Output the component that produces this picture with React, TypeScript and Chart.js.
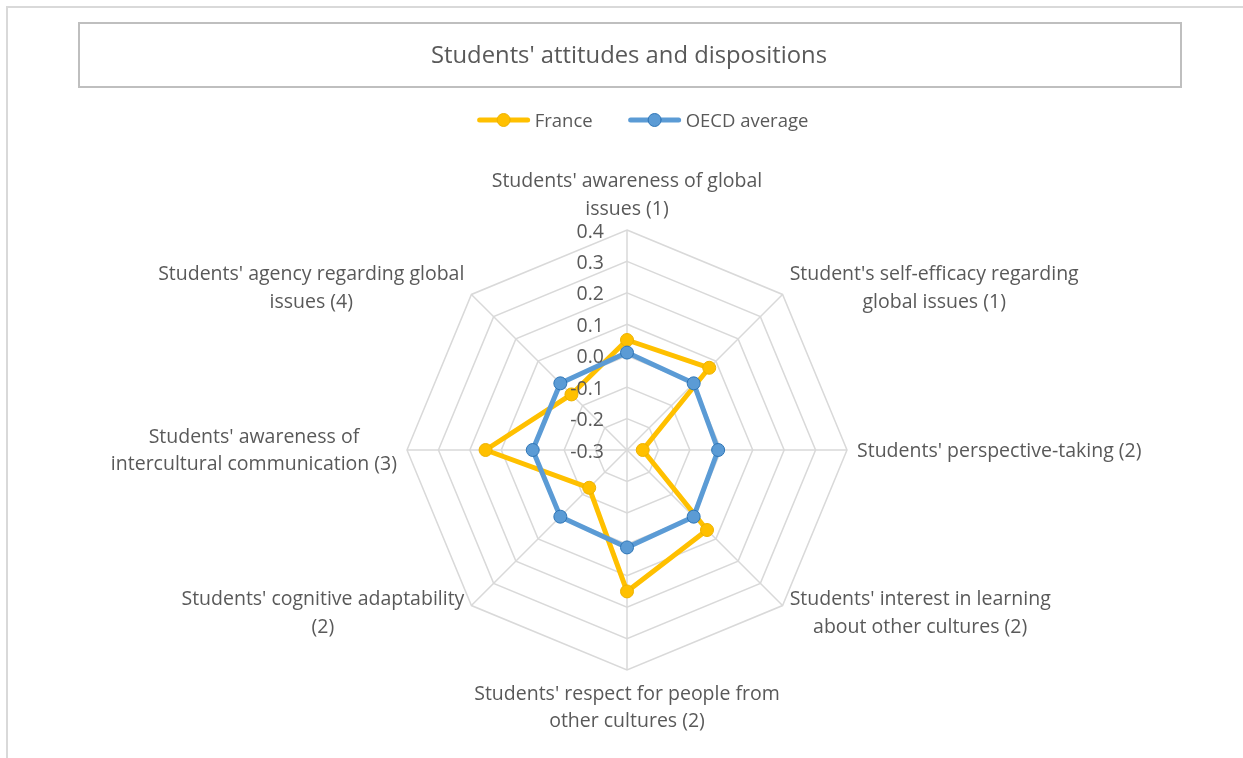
import React, { useEffect, useRef } from "react";
import { Chart, registerables } from "chart.js";

Chart.register(...registerables);

const chartTitle = "Students' attitudes and dispositions";

const categories: string[][] = [
  ["Students' awareness of global", "issues (1)"],
  ["Student's self-efficacy regarding", "global issues (1)"],
  ["Students' perspective-taking (2)"],
  ["Students' interest in learning", "about other cultures (2)"],
  ["Students' respect for people from", "other cultures (2)"],
  ["Students' cognitive adaptability", "(2)"],
  ["Students' awareness of", "intercultural communication (3)"],
  ["Students' agency regarding global", "issues (4)"],
];

const franceValues = [0.05, 0.07, -0.25, 0.06, 0.15, -0.13, 0.15, -0.05];
const oecdValues = [0.01, 0.0, -0.01, 0.0, 0.01, 0.0, 0.0, 0.0];

const tickLabels = ["-0.3", "-0.2", "-0.1", "0.0", "0.1", "0.2", "0.3", "0.4"];
const scaleMin = -0.3;
const scaleMax = 0.4;
const scaleStep = 0.1;

const FONT = "'Open Sans', sans-serif";
const TEXT = "#595959";

const decorPlugin = {
  id: "decor",
  beforeDraw(chart: any) {
    const ctx = chart.ctx;
    ctx.save();
    // outer frame (top + left visible)
    ctx.strokeStyle = "#D9D9D9";
    ctx.lineWidth = 2;
    ctx.beginPath();
    ctx.moveTo(7, chart.height);
    ctx.lineTo(7, 7);
    ctx.lineTo(chart.width, 7);
    ctx.stroke();
    // title box
    ctx.strokeStyle = "#BFBFBF";
    ctx.lineWidth = 2;
    ctx.strokeRect(79, 23, 1102, 64);
    ctx.fillStyle = TEXT;
    ctx.font = `23.8px ${FONT}`;
    ctx.textAlign = "center";
    ctx.textBaseline = "middle";
    ctx.fillText(chartTitle, 629, 56);
    // legend
    ctx.font = `18.5px ${FONT}`;
    const lineLen = 52;
    const gap = 5;
    const itemGap = 36;
    const ds = chart.data.datasets;
    const widths = ds.map((d: any) => lineLen + gap + ctx.measureText(d.label).width);
    const total = widths.reduce((a: number, b: number) => a + b, 0) + itemGap * (ds.length - 1);
    let x = 643 - total / 2;
    const y = 120;
    ds.forEach((d: any, i: number) => {
      ctx.strokeStyle = d.borderColor;
      ctx.lineWidth = 5;
      ctx.lineCap = "round";
      ctx.beginPath();
      ctx.moveTo(x + 2, y);
      ctx.lineTo(x + lineLen - 2, y);
      ctx.stroke();
      ctx.beginPath();
      ctx.arc(x + lineLen / 2, y, 6.5, 0, Math.PI * 2);
      ctx.fillStyle = d.pointBackgroundColor;
      ctx.fill();
      ctx.lineWidth = 1;
      ctx.strokeStyle = d.pointBorderColor;
      ctx.stroke();
      ctx.fillStyle = TEXT;
      ctx.textAlign = "left";
      ctx.fillText(d.label, x + lineLen + gap, y + 2);
      x += widths[i] + itemGap;
    });
    ctx.restore();
  },
  afterDatasetsDraw(chart: any) {
    const ctx = chart.ctx;
    const scale = chart.scales.r;
    ctx.save();
    // tick labels
    ctx.fillStyle = TEXT;
    ctx.font = `19.5px ${FONT}`;
    ctx.textAlign = "right";
    ctx.textBaseline = "middle";
    scale.ticks.forEach((t: any, i: number) => {
      const d = scale.getDistanceFromCenterForValue(t.value);
      ctx.fillText(tickLabels[i] ?? t.label, scale.xCenter - 23, scale.yCenter - d + 2);
    });
    // point labels
    const lh = 27.5;
    const R = scale.drawingArea;
    const labels = chart.data.labels as string[][];
    labels.forEach((lines: string[], i: number) => {
      const p = scale.getPointPosition(i, R + 10);
      const ang = scale.getIndexAngle(i);
      const s = Math.sin(ang);
      const c = Math.cos(ang);
      const w = Math.max(...lines.map((l) => ctx.measureText(l).width));
      ctx.textAlign = "center";
      let cx: number;
      let firstY: number;
      if (Math.abs(s) < 0.01) {
        cx = p.x;
        if (c > 0) firstY = p.y - 11 - (lines.length - 1) * lh;
        else firstY = p.y + 14;
      } else {
        cx = s > 0 ? p.x + w / 2 : p.x - w / 2;
        firstY = p.y + 1 - ((lines.length - 1) * lh) / 2;
      }
      lines.forEach((l, k) => ctx.fillText(l, cx, firstY + k * lh));
    });
    ctx.restore();
  },
};

export default function App() {
  const ref = useRef<HTMLCanvasElement | null>(null);
  useEffect(() => {
    if (!ref.current) return;
    const chart = new Chart(ref.current, {
      type: "radar",
      data: {
        labels: categories as any,
        datasets: [
          {
            label: "France",
            data: franceValues,
            borderColor: "#FFC000",
            backgroundColor: "rgba(0,0,0,0)",
            pointBackgroundColor: "#FFC000",
            pointBorderColor: "#EDB200",
            borderWidth: 5,
            pointRadius: 6.5,
            pointBorderWidth: 1,
            borderJoinStyle: "round",
            fill: false,
            order: 1,
          } as any,
          {
            label: "OECD average",
            data: oecdValues,
            borderColor: "#5B9BD5",
            backgroundColor: "rgba(0,0,0,0)",
            pointBackgroundColor: "#5B9BD5",
            pointBorderColor: "#2E75B6",
            borderWidth: 5,
            pointRadius: 6.5,
            pointBorderWidth: 1,
            borderJoinStyle: "round",
            fill: false,
            order: 0,
          } as any,
        ],
      },
      plugins: [decorPlugin],
      options: {
        animation: false,
        responsive: true,
        maintainAspectRatio: false,
        layout: { padding: { left: 407, right: 396, top: 230, bottom: 88 } },
        plugins: {
          legend: { display: false },
          title: { display: false },
          tooltip: { enabled: false },
        },
        scales: {
          r: {
            min: scaleMin,
            max: scaleMax,
            ticks: { stepSize: scaleStep, display: false },
            pointLabels: { display: false },
            grid: { color: "#D9D9D9", lineWidth: 1.5 },
            angleLines: { color: "#D9D9D9", lineWidth: 1.5 },
          },
        },
      },
    });
    return () => chart.destroy();
  }, []);
  return (
    <div style={{ position: "fixed", left: 0, top: 0, width: 1243, height: 758, background: "#fff" }}>
      <canvas ref={ref} />
    </div>
  );
}
